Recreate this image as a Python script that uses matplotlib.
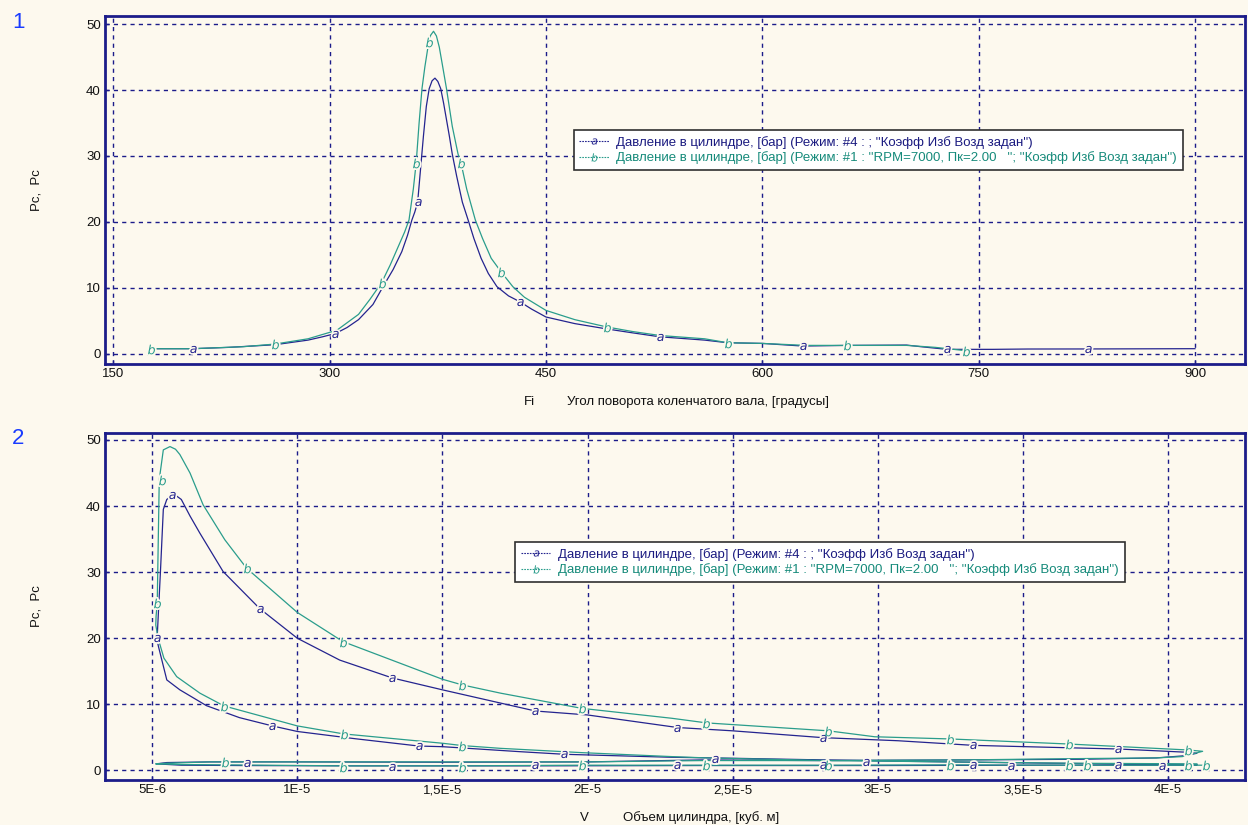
import numpy as np
import matplotlib
matplotlib.use("Agg")
import matplotlib.pyplot as plt
from matplotlib.lines import Line2D

# ---------------- data: chart 1 (pressure vs crank angle) ----------------
a_deg = [180, 205, 230, 262, 285, 295, 304, 312, 320, 330, 337, 344, 350, 354, 357, 359, 361,
         363, 365, 367, 369, 371, 373, 375, 377, 379, 381, 383, 385, 388, 392, 396, 400, 405,
         410, 416, 424, 432, 440, 450, 470, 492, 510, 529, 560, 576, 600, 628, 660, 700, 710,
         728, 760, 784, 826, 900]
a_p = [0.8, 0.8, 1.0, 1.4, 2.1, 2.6, 3.1, 4.0, 5.2, 7.5, 10.2, 12.8, 15.5, 18.0, 20.3, 21.5, 23.0,
       28.0, 33.0, 37.5, 40.2, 41.4, 41.8, 41.3, 40.2, 38.0, 35.5, 33.0, 30.3, 27.0, 23.0, 20.3,
       17.5, 14.5, 12.2, 10.2, 8.8, 7.9, 6.8, 5.6, 4.6, 3.8, 3.2, 2.6, 2.1, 1.7, 1.6, 1.2, 1.3,
       1.35, 1.1, 0.7, 0.7, 0.75, 0.76, 0.8]
b_deg = [176, 205, 240, 262, 285, 305, 320, 328, 336, 342, 348, 352, 355, 358, 360, 362, 364,
         366, 368, 370, 372, 374, 376, 378, 381, 385, 389, 391, 395, 401, 406, 412, 419, 427,
         435, 450, 470, 492, 510, 529, 560, 576, 600, 630, 659, 700, 720, 741]
b_p = [0.8, 0.8, 1.1, 1.5, 2.3, 3.6, 6.0, 8.3, 10.8, 13.5, 16.5, 18.5, 20.3, 25.0, 29.0, 35.0,
       40.2, 43.5, 46.3, 48.3, 48.9, 48.2, 46.5, 44.0, 40.2, 34.5, 30.3, 29.0, 25.0, 20.3, 17.5,
       14.5, 12.4, 10.2, 8.6, 6.6, 5.2, 4.1, 3.4, 2.8, 2.3, 1.7, 1.6, 1.3, 1.3, 1.3, 1.0, 0.5]
a_mk_deg = [205, 304, 361, 432, 529, 628, 728, 826]
a_mk_p = [0.8, 3.1, 23.0, 7.9, 2.6, 1.2, 0.7, 0.76]
b_mk_deg = [176, 262, 336, 360, 369, 391, 419, 492, 576, 659, 741]
b_mk_p = [0.8, 1.5, 10.8, 29.0, 47.3, 29.0, 12.4, 4.1, 1.7, 1.3, 0.5]

# ---------------- data: chart 2 (pressure vs cylinder volume) ----------------
# volumes given in units of 1e-5 m^3
va = [4.10, 3.83, 3.60, 3.33, 3.07, 2.81, 2.50, 2.29, 2.00, 1.92, 1.765, 1.50, 1.418, 1.20,
      1.00, 0.914, 0.80, 0.687, 0.595, 0.55, 0.521, 0.513, 0.517, 0.528, 0.538, 0.55, 0.567,
      0.575, 0.60, 0.63, 0.664, 0.744, 0.87, 1.00, 1.146, 1.327, 1.50, 1.70, 1.82, 2.00, 2.31,
      2.50, 2.81, 3.07, 3.33, 3.60, 3.83, 4.07, 4.10,
      4.05, 3.96, 3.70, 3.30, 2.80, 2.40, 2.00, 1.50, 1.00, 0.70, 0.55, 0.513,
      0.60, 0.80, 1.20, 1.80, 2.40, 3.00, 3.60, 4.10]
pa = [0.9, 1.0, 1.1, 1.25, 1.4, 1.6, 1.85, 2.0, 2.35, 2.45, 2.85, 3.6, 3.7, 4.8,
      5.9, 6.74, 8.0, 9.8, 12.2, 13.7, 18.8, 20.5, 20.3, 30.0, 39.5, 41.0, 41.6,
      41.8, 41.0, 38.5, 35.9, 30.1, 24.5, 20.0, 16.7, 14.0, 12.2, 10.2, 9.0, 8.4, 6.5,
      6.0, 4.97, 4.5, 3.8, 3.5, 3.25, 2.75, 2.6,
      2.2, 1.9, 1.7, 1.6, 1.5, 1.6, 1.3, 1.25, 1.3, 1.3, 1.2, 1.0,
      0.8, 0.75, 0.7, 0.7, 0.75, 0.75, 0.8, 0.8]
vb = [4.10, 3.66, 3.25, 2.83, 2.41, 2.29, 1.98, 1.765, 1.70, 1.568, 1.50, 1.16, 1.00, 0.747,
      0.664, 0.584, 0.54, 0.52, 0.512, 0.513, 0.517, 0.524, 0.538, 0.561,
      0.58, 0.595, 0.63, 0.675, 0.75, 0.825, 1.00, 1.157, 1.50, 1.568, 1.70, 1.98, 2.29, 2.41,
      2.83, 2.99, 3.25, 3.66, 4.07, 4.12,
      4.05, 3.96, 3.70, 3.30, 2.80, 2.40, 2.00, 1.50, 1.00, 0.70, 0.55, 0.512,
      0.60, 0.75, 1.157, 1.568, 1.98, 2.41, 2.83, 3.25, 3.66, 4.12]
pb = [1.0, 1.1, 1.3, 1.5, 1.9, 2.1, 2.7, 3.2, 3.35, 3.77, 4.12, 5.53, 6.74, 9.77,
      11.7, 14.2, 17.0, 20.0, 22.0, 23.3, 25.3, 44.0, 48.5, 49.0,
      48.6, 47.8, 45.0, 40.2, 34.9, 30.6, 23.9, 19.5, 13.8, 12.95, 11.7, 9.4, 7.9, 7.2,
      6.0, 5.1, 4.77, 4.0, 3.1, 2.9,
      2.1, 1.9, 1.8, 1.6, 1.5, 1.5, 1.3, 1.3, 1.3, 1.3, 1.1, 1.0,
      0.9, 0.85, 0.7, 0.7, 0.8, 0.8, 0.8, 0.85, 0.8, 0.8]
va_mk = [0.517, 0.567, 0.87, 1.327, 1.82, 2.31, 2.81, 3.33, 3.83, 0.914, 1.418, 1.92, 2.44,
         2.96, 0.828, 1.327, 1.82, 2.31, 2.81, 3.33, 3.46, 3.83, 3.98]
pa_mk = [20.0, 41.6, 24.5, 14.0, 9.0, 6.5, 4.97, 3.8, 3.25, 6.74, 3.7, 2.45, 1.7,
         1.3, 1.1, 0.6, 0.83, 0.8, 0.8, 0.8, 0.7, 0.8, 0.7]
vb_mk = [0.517, 0.532, 0.825, 1.157, 1.568, 1.98, 2.41, 2.83, 3.25, 3.66, 4.07, 0.747, 1.16,
         1.568, 0.75, 1.157, 1.568, 1.98, 2.41, 2.83, 3.25, 3.66, 3.72, 4.07, 4.13]
pb_mk = [25.3, 44.0, 30.6, 19.5, 12.95, 9.4, 7.2, 6.0, 4.77, 4.0, 3.1, 9.77, 5.53,
         3.77, 1.33, 0.6, 0.6, 0.8, 0.8, 0.8, 0.85, 0.8, 0.8, 0.8, 0.8]

x1_ticks = [150, 300, 450, 600, 750, 900]
y_ticks = [0, 10, 20, 30, 40, 50]
x2_ticks = [5e-6, 1e-5, 1.5e-5, 2e-5, 2.5e-5, 3e-5, 3.5e-5, 4e-5]
x2_labels = ["5E-6", "1E-5", "1,5E-5", "2E-5", "2,5E-5", "3E-5", "3,5E-5", "4E-5"]

label_a = "Давление в цилиндре, [бар] (Режим: #4 : ; ''Коэфф Изб Возд задан'')"
label_b = "Давление в цилиндре, [бар] (Режим: #1 : ''RPM=7000, Пк=2.00   ''; ''Коэфф Изб Возд задан'')"

# ---------------- style ----------------
BG = "#fdf9ee"
NAVY = "#1c1c8a"
COL_A = "#24248f"
COL_B = "#2a9d8c"
FONT = ["Liberation Sans", "DejaVu Sans"]
plt.rcParams["font.family"] = FONT
MK_SIZE = {"a": 5.2, "b": 7.0}

fig = plt.figure(figsize=(12.48, 8.25), dpi=100, facecolor=BG)
W, H = 1248.0, 825.0
ax1 = fig.add_axes([105 / W, 1 - 364 / H, 1140 / W, 348.3 / H])
ax2 = fig.add_axes([105 / W, 1 - 780 / H, 1140 / W, 347.3 / H])


def style_axes(ax):
    ax.set_facecolor(BG)
    for s in ax.spines.values():
        s.set_color(NAVY)
        s.set_linewidth(2.0)
    ax.grid(True, color=NAVY, linestyle=(0, (3, 3)), linewidth=1.0)
    ax.set_axisbelow(True)
    ax.tick_params(direction="in", length=3, width=1, color=NAVY,
                   labelsize=9.5, labelcolor="#111111", pad=3)
    ax.set_yticks(y_ticks)
    ax.set_ylabel("Pc,  Pc", fontsize=9.5, color="#111111")
    ax.yaxis.set_label_coords(-0.055, 0.5)


def draw_series(ax, x, y, mx, my, color, letter):
    ms = MK_SIZE[letter]
    ax.plot(x, y, color=color, linewidth=0.9, zorder=3)
    ax.plot(mx, my, linestyle="none", marker="$" + letter + "$", markersize=ms,
            markeredgecolor=BG, markerfacecolor=BG, markeredgewidth=2.5, zorder=4)
    ax.plot(mx, my, linestyle="none", marker="$" + letter + "$", markersize=ms,
            markeredgecolor=color, markerfacecolor=color, markeredgewidth=0, zorder=5)


def add_legend(ax, anchor):
    handles = [
        Line2D([0], [0], color=COL_A, linestyle=(0, (1.5, 1)), linewidth=0.8,
               marker="$a$", markersize=4.5, markeredgewidth=0),
        Line2D([0], [0], color=COL_B, linestyle=(0, (1.5, 1)), linewidth=0.8,
               marker="$b$", markersize=6, markeredgewidth=0),
    ]
    leg = ax.legend(handles, [label_a, label_b], loc="upper left", bbox_to_anchor=anchor,
                    frameon=True, fancybox=False, framealpha=1, facecolor="white",
                    edgecolor="#303030", fontsize=9.5, handlelength=2.2, handletextpad=0.6,
                    borderpad=0.45, labelspacing=0.2, borderaxespad=0)
    leg.get_frame().set_linewidth(1.2)
    leg.get_texts()[0].set_color("#1a1a80")
    leg.get_texts()[1].set_color("#158a7a")
    leg.set_zorder(10)


# chart 1
style_axes(ax1)
ax1.set_xlim(144.2, 934.7)
ax1.set_ylim(-1.52, 51.26)
ax1.set_xticks(x1_ticks)
draw_series(ax1, a_deg, a_p, a_mk_deg, a_mk_p, COL_A, "a")
draw_series(ax1, b_deg, b_p, b_mk_deg, b_mk_p, COL_B, "b")
add_legend(ax1, (0.411, 0.672))

# chart 2
style_axes(ax2)
ax2.set_xlim(3.37e-6, 4.266e-5)
ax2.set_ylim(-1.44, 51.1)
ax2.set_xticks(x2_ticks)
ax2.set_xticklabels(x2_labels)
draw_series(ax2, np.array(va) * 1e-5, pa, np.array(va_mk) * 1e-5, pa_mk, COL_A, "a")
draw_series(ax2, np.array(vb) * 1e-5, pb, np.array(vb_mk) * 1e-5, pb_mk, COL_B, "b")
add_legend(ax2, (0.360, 0.686))

# panel numbers and axis titles
fig.text(18 / W, 1 - 22 / H, "1", fontsize=16, color="#1a3cff", ha="center", va="center")
fig.text(18 / W, 1 - 438 / H, "2", fontsize=16, color="#1a3cff", ha="center", va="center")
fig.text(524 / W, 1 - 402 / H, "Fi", fontsize=9.5, color="#111111", va="center")
fig.text(567 / W, 1 - 402 / H, "Угол поворота коленчатого вала, [градусы]", fontsize=9.5,
         color="#111111", va="center")
fig.text(580 / W, 1 - 818 / H, "V", fontsize=9.5, color="#111111", va="center")
fig.text(623 / W, 1 - 818 / H, "Объем цилиндра, [куб. м]", fontsize=9.5,
         color="#111111", va="center")

fig.savefig("out.png", dpi=100, facecolor=BG)
